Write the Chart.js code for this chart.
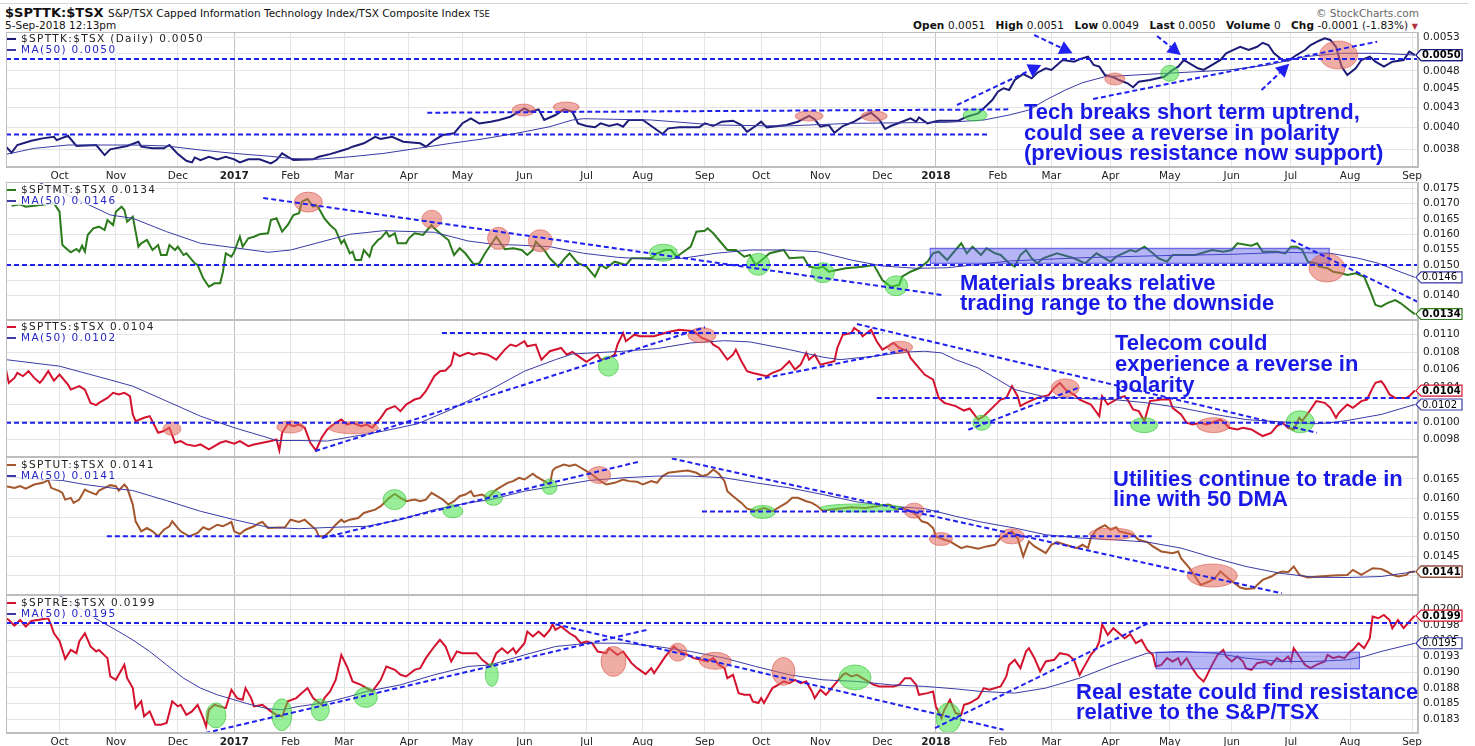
<!DOCTYPE html>
<html lang="en">
<head>
<meta charset="UTF-8">
<title>$SPTTK:$TSX - sector ratio charts</title>
<style>
  body { margin: 0; background: #fff; font-family: "DejaVu Sans", sans-serif; }
  #wrap { position: relative; width: 1475px; height: 746px; overflow: hidden; }
  canvas.panel { position: absolute; left: 0; }
  .txt { position: absolute; white-space: nowrap; color: #111; }
  .legend { position: absolute; left: 7px; font-size: 10.5px; letter-spacing: 1.35px; line-height: 10.5px; white-space: nowrap; }
  .legend div { display: inline-block; background: rgba(255,255,255,0.8); }
  .legend .dash { display: inline-block; width: 9px; height: 2px; vertical-align: middle; margin-right: 5px; }
  .note { position: absolute; font: bold 22px "Liberation Sans", Arial, sans-serif; color: #1a1ae6; white-space: nowrap; }
  .ohlc { letter-spacing: 0.1px; }
  .ohlc b { font-weight: bold; }
</style>
<script src="https://cdn.jsdelivr.net/npm/chart.js"></script>
</head>
<body>
<div id="wrap">
  <div style="position:absolute;left:0;top:3px;width:1468px;height:1px;background:#d4d4d4"></div>
  <div class="txt" style="left:5px;top:5px;font-size:13px;font-weight:bold;line-height:15px">$SPTTK:$TSX</div>
  <div class="txt" style="left:108px;top:7px;font-size:10.5px;line-height:13px">S&amp;P/TSX Capped Information Technology Index/TSX Composite Index <span style="font-size:8.5px">TSE</span></div>
  <div class="txt" style="left:5px;top:19px;font-size:10.5px;line-height:13px">5-Sep-2018 12:13pm</div>
  <div class="txt" style="right:56px;top:7px;font-size:10.5px;line-height:13px;color:#666">&copy; StockCharts.com</div>
  <div class="txt ohlc" style="left:913px;top:19px;font-size:10.5px;line-height:13px"><b>Open</b> 0.0051&nbsp;&nbsp;&nbsp;<b>High</b> 0.0051&nbsp;&nbsp;&nbsp;<b>Low</b> 0.0049&nbsp;&nbsp;&nbsp;<b>Last</b> 0.0050&nbsp;&nbsp;&nbsp;<b>Volume</b> 0&nbsp;&nbsp;&nbsp;<b>Chg</b> -0.0001 (-1.83%) <span style="color:#b03040;font-size:8px">&#9660;</span></div>
</div>
<script>
// trading-day index of each month start (day 0 = 6-Sep-2016) and axis labels
const monthStarts = [19, 39, 61, 81, 101, 120, 143, 162, 184, 206, 226, 248, 268, 289, 311, 330, 352, 371, 392, 413, 435, 456, 477, 499];
const monthLabels = ['Oct', 'Nov', 'Dec', '2017', 'Feb', 'Mar', 'Apr', 'May', 'Jun', 'Jul', 'Aug', 'Sep', 'Oct', 'Nov', 'Dec', '2018', 'Feb', 'Mar', 'Apr', 'May', 'Jun', 'Jul', 'Aug', 'Sep'];
const lastDay = 501.1;

// $SPTTK:$TSX  [day, ratio]
const tech = [[0,0.003777],[2,0.003708],[4,0.003796],[9,0.003845],[13,0.003873],[17,0.003891],[18,0.003853],[22,0.003903],[25,0.003785],[32,0.003796],[35,0.003682],[37,0.003747],[43,0.003785],[47,0.003834],[48,0.003777],[52,0.003758],[56,0.003758],[58,0.003796],[61,0.003693],[64,0.003619],[66,0.003602],[67,0.003656],[69,0.003627],[72,0.003663],[75,0.003635],[78,0.003663],[81,0.003635],[83,0.003602],[86,0.003635],[90,0.003635],[94,0.003591],[96,0.003627],[98,0.003701],[100,0.003663],[102,0.003627],[109,0.003635],[111,0.003663],[115,0.003693],[121,0.00375],[123,0.003777],[127,0.003816],[131,0.003891],[133,0.003865],[137,0.003891],[141,0.003834],[147,0.003816],[149,0.003777],[152,0.003853],[155,0.003912],[159,0.003932],[162,0.004054],[165,0.004115],[168,0.004051],[172,0.004073],[175,0.004094],[179,0.004135],[184,0.004241],[186,0.004198],[189,0.004228],[191,0.004094],[195,0.004156],[198,0.004228],[201,0.004198],[203,0.004053],[206,0.00402],[209,0.004005],[211,0.004053],[214,0.00402],[217,0.004044],[219,0.004012],[221,0.004094],[226,0.004094],[229,0.00402],[233,0.003924],[235,0.003992],[239,0.004004],[246,0.004004],[248,0.004053],[251,0.00402],[254,0.004073],[258,0.004085],[261,0.004032],[263,0.00395],[266,0.00402],[268,0.004073],[270,0.004004],[277,0.004032],[281,0.004073],[285,0.004144],[287,0.004103],[289,0.004012],[292,0.004032],[294,0.003938],[297,0.00402],[301,0.004073],[304,0.004135],[307,0.004185],[310,0.004094],[312,0.003984],[314,0.00402],[318,0.004073],[321,0.004115],[323,0.004073],[324,0.004127],[327,0.004053],[331,0.004085],[338,0.004085],[341,0.004135],[345,0.004177],[347,0.004241],[350,0.004349],[352,0.00446],[354,0.004506],[356,0.004483],[358,0.00462],[361,0.004704],[364,0.004643],[366,0.004723],[369,0.004787],[371,0.004762],[373,0.004834],[375,0.004908],[379,0.004883],[381,0.004918],[384,0.004958],[386,0.004834],[388,0.00481],[390,0.00469],[393,0.004658],[395,0.00462],[398,0.004574],[400,0.004519],[402,0.004597],[406,0.00462],[411,0.004666],[414,0.004762],[416,0.00481],[418,0.004908],[420,0.004859],[423,0.004786],[425,0.004762],[427,0.00481],[431,0.004908],[433,0.005008],[436,0.005068],[438,0.005108],[441,0.005058],[444,0.005108],[446,0.00517],[448,0.005135],[450,0.005008],[453,0.004908],[455,0.004897],[458,0.004982],[461,0.005058],[463,0.005135],[466,0.005202],[468,0.00524],[470,0.005214],[472,0.005108],[474,0.00481],[476,0.00469],[479,0.004787],[481,0.004908],[484,0.004958],[486,0.004883],[489,0.00481],[492,0.004883],[496,0.004908],[498,0.005033],[500,0.004982]];
const techMA = [[0,0.00369],[10,0.003758],[22,0.003796],[45,0.003796],[57,0.003785],[69,0.003739],[81,0.003701],[93,0.003671],[101,0.003645],[110,0.003635],[122,0.003663],[134,0.003701],[146,0.003758],[158,0.003816],[169,0.003865],[181,0.003932],[193,0.004012],[201,0.004094],[205,0.00411],[229,0.004094],[252,0.004032],[276,0.00402],[300,0.004053],[334,0.004065],[347,0.004094],[356,0.004156],[363,0.004219],[369,0.004349],[376,0.004483],[382,0.004582],[390,0.004666],[409,0.004708],[434,0.004762],[448,0.004834],[461,0.004958],[474,0.005008],[487,0.005008],[500,0.004982]];

// $SPTMT:$TSX
const mat = [[2,0.016933],[5,0.016979],[7,0.0169],[10,0.016933],[17,0.017011],[19,0.016737],[20,0.015652],[22,0.015489],[23,0.015414],[25,0.015522],[26,0.015434],[27,0.015629],[28,0.015434],[29,0.015978],[31,0.016196],[33,0.016249],[35,0.016141],[36,0.016467],[38,0.016304],[39,0.016737],[41,0.0169],[42,0.016793],[43,0.016411],[45,0.016574],[46,0.016086],[47,0.015597],[48,0.015708],[50,0.015815],[52,0.015489],[54,0.015652],[55,0.015326],[57,0.015326],[58,0.015652],[60,0.015489],[61,0.015597],[63,0.015326],[64,0.015382],[67,0.015056],[68,0.015],[70,0.014567],[72,0.014293],[74,0.014404],[76,0.014404],[77,0.014782],[78,0.015382],[80,0.015271],[81,0.015434],[83,0.015923],[84,0.015597],[86,0.01587],[88,0.015923],[90,0.016001],[93,0.016033],[94,0.016467],[96,0.016522],[98,0.016086],[100,0.016304],[102,0.01663],[104,0.016685],[105,0.017063],[107,0.017151],[109,0.0169],[110,0.016956],[111,0.016848],[113,0.016522],[115,0.016304],[117,0.016141],[119,0.015708],[120,0.015815],[122,0.015382],[123,0.015434],[124,0.015163],[126,0.015163],[127,0.015489],[129,0.015271],[130,0.015597],[132,0.015815],[133,0.01587],[135,0.016086],[136,0.015923],[138,0.016033],[139,0.015708],[142,0.015708],[143,0.01587],[145,0.016033],[148,0.015978],[151,0.016304],[152,0.016196],[154,0.016033],[157,0.015815],[159,0.015326],[161,0.015545],[163,0.015382],[166,0.015023],[168,0.015056],[170,0.015382],[172,0.015652],[174,0.015923],[177,0.015512],[180,0.015545],[183,0.015489],[185,0.015326],[187,0.015489],[188,0.01576],[191,0.015489],[193,0.015219],[196,0.014945],[198,0.015186],[200,0.015382],[203,0.015056],[206,0.014945],[209,0.014619],[211,0.015],[213,0.014893],[216,0.015108],[220,0.015],[222,0.015219],[229,0.015219],[231,0.015382],[234,0.015489],[236,0.015489],[238,0.015271],[243,0.015597],[245,0.016086],[248,0.016118],[249,0.016196],[251,0.016033],[253,0.015815],[256,0.015489],[259,0.015489],[262,0.015271],[264,0.015326],[266,0.015],[269,0.015219],[271,0.015382],[276,0.015489],[278,0.015219],[283,0.015251],[285,0.014945],[288,0.014893],[290,0.014945],[292,0.014782],[298,0.014893],[304,0.014945],[308,0.015],[311,0.014511],[314,0.014293],[317,0.014349],[318,0.014619],[321,0.014782],[324,0.014893],[327,0.015108],[329,0.015382],[331,0.015434],[334,0.015163],[337,0.015489],[339,0.015708],[341,0.015382],[343,0.015597],[346,0.015326],[348,0.015545],[351,0.015382],[353,0.015326],[356,0.015056],[358,0.014945],[360,0.015326],[362,0.015489],[364,0.015219],[366,0.015056],[368,0.015219],[373,0.015382],[379,0.015219],[383,0.015056],[387,0.015382],[392,0.015108],[394,0.015271],[399,0.015489],[401,0.015434],[404,0.015597],[407,0.015382],[409,0.015219],[412,0.015108],[414,0.015326],[422,0.015326],[428,0.015489],[432,0.015434],[435,0.015489],[437,0.015708],[442,0.015629],[444,0.015708],[446,0.015434],[451,0.015434],[454,0.015382],[456,0.015597],[458,0.015597],[460,0.015489],[462,0.015108],[465,0.015056],[466,0.014945],[469,0.014893],[471,0.014782],[474,0.01473],[476,0.014674],[479,0.01473],[482,0.014619],[484,0.014186],[486,0.013697],[488,0.013641],[490,0.013752],[493,0.013859],[495,0.013752],[498,0.013534],[500,0.0134]];
const matMA = [[5,0.0179],[12,0.01768],[29,0.016979],[37,0.01663],[45,0.016522],[57,0.016086],[69,0.015708],[81,0.015564],[93,0.015414],[101,0.015489],[110,0.015708],[122,0.016001],[134,0.016118],[152,0.016066],[164,0.015783],[173,0.015675],[181,0.015652],[193,0.015597],[205,0.015382],[217,0.015251],[229,0.015186],[240,0.015219],[252,0.015382],[264,0.015489],[276,0.015489],[288,0.015434],[300,0.015163],[311,0.014968],[323,0.014893],[334,0.01491],[343,0.015],[356,0.015131],[382,0.015238],[409,0.015303],[435,0.015349],[454,0.015414],[470,0.015382],[480,0.015219],[487,0.015056],[493,0.014837],[500,0.0146]];

// $SPTTS:$TSX
const tel = [[0,0.0106],[1,0.010448],[3,0.010505],[4,0.010562],[6,0.010525],[8,0.010582],[10,0.010505],[12,0.010448],[13,0.010486],[15,0.010582],[17,0.010474],[19,0.010543],[22,0.010428],[23,0.010371],[26,0.01041],[28,0.010371],[30,0.010219],[32,0.010193],[33,0.010219],[36,0.010276],[38,0.010334],[40,0.010314],[42,0.010334],[44,0.010296],[45,0.010086],[46,0.01001],[49,0.010048],[51,0.010067],[54,0.009876],[56,0.009896],[58,0.009934],[60,0.009762],[62,0.009782],[64,0.009743],[67,0.009724],[69,0.009743],[72,0.009686],[74,0.009724],[76,0.009762],[78,0.009782],[81,0.009751],[83,0.009782],[86,0.009724],[88,0.009743],[91,0.009762],[94,0.009782],[96,0.0098],[97,0.009674],[98,0.009876],[100,0.009979],[102,0.009953],[104,0.009971],[106,0.009934],[108,0.009762],[110,0.009674],[112,0.009819],[114,0.009914],[117,0.009991],[119,0.010028],[121,0.009971],[123,0.009991],[126,0.009953],[128,0.009971],[130,0.009934],[133,0.010048],[135,0.010143],[138,0.010182],[140,0.010124],[142,0.0102],[145,0.010257],[147,0.010276],[149,0.010353],[152,0.010525],[154,0.010582],[156,0.010589],[158,0.010657],[159,0.010791],[161,0.010753],[164,0.010791],[166,0.010771],[168,0.010791],[171,0.010771],[174,0.010714],[177,0.010829],[179,0.010886],[181,0.010867],[184,0.010925],[185,0.010867],[188,0.010886],[190,0.010714],[193,0.01081],[197,0.010848],[199,0.010771],[201,0.010802],[204,0.010734],[206,0.010688],[210,0.010771],[211,0.010714],[214,0.010734],[216,0.010771],[217,0.010886],[219,0.011019],[220,0.010925],[223,0.011],[225,0.010982],[230,0.010982],[235,0.011031],[239,0.011057],[244,0.011039],[247,0.010962],[250,0.010925],[251,0.010886],[253,0.010848],[256,0.010714],[258,0.010771],[259,0.010829],[261,0.010696],[263,0.010582],[265,0.010562],[270,0.010525],[272,0.010562],[275,0.0106],[278,0.010696],[280,0.0106],[282,0.010657],[284,0.010791],[285,0.010714],[287,0.010771],[289,0.010657],[294,0.010696],[295,0.010848],[297,0.011],[300,0.011019],[301,0.011077],[303,0.011031],[304,0.010982],[307,0.011057],[309,0.010925],[311,0.010829],[313,0.010867],[315,0.010905],[317,0.010848],[320,0.01081],[321,0.010734],[323,0.010657],[326,0.010543],[329,0.010486],[331,0.010276],[333,0.010219],[337,0.010182],[340,0.010131],[342,0.010154],[345,0.010028],[347,0.010067],[350,0.010162],[353,0.010257],[355,0.010276],[357,0.01041],[359,0.010296],[360,0.010182],[362,0.010219],[366,0.010276],[370,0.010307],[372,0.010391],[374,0.010448],[376,0.010371],[379,0.010314],[381,0.010257],[385,0.0102],[388,0.010067],[389,0.010296],[391,0.0102],[395,0.010276],[397,0.010296],[398,0.010257],[400,0.010143],[402,0.010124],[404,0.01001],[406,0.010239],[410,0.010257],[413,0.010257],[414,0.010162],[417,0.010086],[419,0.009991],[421,0.009971],[424,0.009991],[426,0.009971],[428,0.009991],[431,0.010028],[433,0.009971],[434,0.009934],[437,0.009914],[439,0.009934],[442,0.009914],[444,0.009876],[446,0.009839],[449,0.009876],[451,0.009953],[453,0.009991],[455,0.009934],[457,0.009914],[459,0.010048],[460,0.01001],[463,0.010143],[465,0.010239],[468,0.010219],[470,0.010162],[472,0.010048],[473,0.010105],[476,0.0102],[478,0.010162],[481,0.010239],[483,0.010257],[485,0.010391],[486,0.010448],[488,0.010467],[489,0.010428],[491,0.010314],[493,0.010276],[497,0.010276],[498,0.010296],[500,0.01036]];
const telMA = [[0,0.010714],[19,0.010639],[37,0.010482],[45,0.01041],[57,0.010239],[69,0.010067],[81,0.009934],[93,0.009819],[96,0.009788],[104,0.009788],[114,0.009782],[122,0.009827],[134,0.009896],[146,0.009979],[158,0.010143],[166,0.010276],[172,0.010371],[184,0.010582],[195,0.010714],[201,0.010779],[219,0.01081],[231,0.01084],[243,0.010905],[255,0.010931],[264,0.010917],[278,0.010829],[290,0.010742],[296,0.010714],[308,0.010753],[320,0.010802],[326,0.01081],[332,0.010791],[337,0.010714],[345,0.010619],[352,0.010486],[358,0.010371],[369,0.010285],[381,0.010269],[393,0.010257],[405,0.010219],[417,0.010162],[429,0.010086],[440,0.010028],[452,0.010002],[464,0.009979],[470,0.009991],[476,0.010017],[488,0.010086],[500,0.0102]];

// $SPTUT:$TSX
const ut = [[0,0.01631],[3,0.016266],[5,0.01631],[7,0.016248],[10,0.016352],[13,0.016396],[15,0.016466],[16,0.016266],[19,0.016181],[20,0.016136],[21,0.015962],[23,0.016007],[24,0.015877],[26,0.015962],[28,0.016222],[29,0.016181],[32,0.016092],[33,0.016196],[35,0.016266],[37,0.016336],[39,0.01631],[40,0.016196],[42,0.016352],[43,0.016266],[45,0.015833],[46,0.015401],[48,0.015142],[50,0.015227],[52,0.015142],[54,0.015012],[56,0.015183],[58,0.015272],[59,0.015401],[61,0.015227],[62,0.015142],[65,0.015012],[68,0.015098],[70,0.015246],[72,0.015183],[75,0.015313],[77,0.015272],[80,0.015383],[81,0.015142],[83,0.015072],[85,0.015183],[88,0.015272],[90,0.015357],[91,0.015383],[93,0.015227],[99,0.015246],[101,0.015443],[103,0.015401],[104,0.015383],[106,0.015443],[108,0.015313],[110,0.015183],[111,0.015012],[113,0.015012],[115,0.015142],[117,0.015313],[119,0.015443],[120,0.015383],[122,0.015443],[125,0.015487],[127,0.015617],[129,0.015661],[131,0.015703],[133,0.015791],[136,0.016007],[138,0.01611],[140,0.016007],[142,0.015921],[145,0.015962],[147,0.015921],[149,0.015962],[151,0.016136],[153,0.016051],[155,0.015962],[157,0.015833],[159,0.015921],[161,0.016051],[163,0.016092],[165,0.016181],[166,0.016051],[169,0.016092],[171,0.016007],[174,0.016222],[178,0.016396],[180,0.01644],[182,0.016526],[184,0.016482],[187,0.01663],[188,0.01657],[191,0.01644],[193,0.016352],[194,0.016716],[195,0.016786],[198,0.016871],[200,0.01683],[202,0.016871],[204,0.016786],[206,0.0167],[208,0.016612],[211,0.01644],[213,0.016352],[216,0.016396],[219,0.016482],[221,0.01644],[224,0.016422],[226,0.016352],[229,0.01644],[231,0.016396],[233,0.01657],[235,0.016656],[240,0.0167],[242,0.016716],[245,0.016656],[247,0.01657],[249,0.016612],[251,0.016742],[253,0.01663],[255,0.01644],[256,0.016181],[258,0.016051],[261,0.015877],[263,0.015729],[266,0.015677],[269,0.015747],[272,0.015661],[275,0.015791],[277,0.015877],[279,0.016007],[281,0.016007],[284,0.015921],[286,0.015877],[288,0.015791],[290,0.015661],[292,0.015703],[300,0.015765],[305,0.015747],[309,0.015791],[313,0.015833],[314,0.015817],[316,0.015703],[318,0.015747],[321,0.015661],[323,0.015573],[325,0.015401],[327,0.015357],[329,0.015227],[330,0.015012],[333,0.014924],[335,0.014882],[337,0.014794],[339,0.014708],[341,0.014752],[345,0.01469],[348,0.014752],[351,0.014794],[353,0.014968],[355,0.015054],[357,0.015142],[359,0.014968],[361,0.014493],[363,0.014882],[365,0.014752],[368,0.014622],[369,0.014578],[371,0.014794],[373,0.014864],[376,0.014794],[380,0.014708],[382,0.014794],[384,0.014708],[385,0.014968],[387,0.015183],[388,0.015227],[390,0.015298],[392,0.015183],[394,0.015246],[395,0.015142],[400,0.015054],[402,0.014924],[405,0.014864],[407,0.014752],[410,0.014622],[414,0.014578],[416,0.014622],[417,0.014448],[420,0.014189],[422,0.013973],[424,0.013755],[427,0.013843],[429,0.013929],[431,0.014103],[433,0.013973],[436,0.013799],[438,0.013687],[440,0.013651],[443,0.013669],[444,0.013755],[446,0.013885],[449,0.013973],[451,0.014059],[453,0.014103],[455,0.014085],[457,0.014233],[459,0.014015],[462,0.013947],[466,0.013973],[471,0.013999],[476,0.014015],[478,0.014145],[481,0.014015],[483,0.014103],[485,0.014189],[488,0.014171],[490,0.014103],[492,0.014015],[494,0.013973],[497,0.014015],[498,0.014085],[500,0.0141]];
const utMA = [[0,0.01655],[20,0.016456],[28,0.016352],[39,0.016248],[45,0.016196],[57,0.015936],[69,0.015661],[81,0.015443],[93,0.015246],[104,0.015209],[116,0.015246],[128,0.015272],[140,0.015443],[152,0.015703],[164,0.015877],[172,0.015962],[184,0.016181],[195,0.01631],[207,0.016456],[219,0.016526],[231,0.01657],[243,0.01657],[255,0.016526],[266,0.016396],[278,0.016266],[290,0.016092],[302,0.015903],[314,0.015791],[326,0.015729],[337,0.015531],[346,0.015383],[358,0.015227],[369,0.015054],[381,0.014968],[393,0.014924],[405,0.014864],[417,0.014708],[429,0.014448],[440,0.014233],[452,0.014059],[464,0.013955],[476,0.013947],[488,0.013973],[500,0.0141]];

// $SPTRE:$TSX
const re = [[0,0.019857],[1,0.01983],[3,0.019741],[5,0.01983],[7,0.019726],[9,0.019814],[15,0.019857],[16,0.019751],[17,0.019619],[19,0.019497],[21,0.019211],[23,0.019354],[25,0.019302],[26,0.019488],[28,0.019619],[30,0.019408],[32,0.019329],[33,0.019354],[36,0.019223],[37,0.018932],[39,0.018878],[40,0.018958],[42,0.019116],[43,0.018905],[45,0.018747],[46,0.018429],[48,0.018536],[49,0.018298],[51,0.018377],[53,0.018164],[55,0.018164],[57,0.018191],[59,0.018536],[61,0.018456],[62,0.018482],[64,0.018323],[66,0.018377],[68,0.018482],[70,0.018271],[71,0.018139],[72,0.018402],[74,0.018482],[78,0.018429],[80,0.01872],[82,0.018588],[84,0.018561],[85,0.018747],[87,0.018588],[88,0.018456],[91,0.018482],[94,0.018377],[96,0.018323],[98,0.018298],[100,0.018536],[103,0.018588],[105,0.018667],[107,0.018747],[109,0.018588],[112,0.018482],[113,0.018588],[115,0.018694],[117,0.018878],[119,0.019275],[121,0.019091],[123,0.018853],[126,0.018799],[130,0.018694],[133,0.018878],[135,0.019091],[138,0.019037],[140,0.018958],[142,0.018932],[145,0.019037],[147,0.019064],[149,0.019223],[152,0.019408],[154,0.019513],[156,0.019408],[158,0.01917],[160,0.019329],[162,0.019302],[167,0.019302],[169,0.019196],[172,0.019091],[174,0.019302],[176,0.019381],[178,0.019302],[180,0.019381],[181,0.019302],[184,0.019461],[185,0.019646],[187,0.019567],[189,0.019646],[191,0.019567],[193,0.019672],[194,0.019762],[195,0.019672],[197,0.019726],[200,0.019619],[202,0.019567],[204,0.019461],[206,0.019488],[208,0.019461],[210,0.019329],[213,0.019302],[214,0.019381],[217,0.019275],[219,0.019329],[222,0.019143],[224,0.019064],[227,0.018969],[229,0.019064],[230,0.018985],[232,0.019116],[234,0.01925],[236,0.019354],[237,0.019408],[239,0.019329],[242,0.019275],[244,0.019223],[249,0.01917],[251,0.019223],[253,0.019116],[255,0.019064],[256,0.018905],[258,0.018958],[260,0.018667],[262,0.01864],[264,0.01864],[265,0.018536],[267,0.018509],[268,0.018588],[269,0.018509],[272,0.018747],[274,0.018799],[276,0.018853],[278,0.018826],[280,0.018878],[282,0.018826],[284,0.018853],[286,0.018694],[287,0.018588],[289,0.01872],[291,0.01864],[292,0.018694],[295,0.018853],[297,0.018958],[298,0.018985],[300,0.018932],[302,0.018958],[305,0.018878],[308,0.018799],[310,0.018774],[315,0.018774],[317,0.018799],[319,0.018905],[321,0.018905],[323,0.018799],[324,0.01864],[327,0.018667],[329,0.018694],[330,0.018456],[332,0.018271],[333,0.018402],[335,0.018561],[337,0.01835],[339,0.018323],[340,0.018482],[342,0.018509],[345,0.018588],[346,0.018667],[347,0.018747],[349,0.01872],[353,0.018774],[355,0.018932],[356,0.019116],[358,0.019196],[360,0.019064],[362,0.019329],[363,0.019381],[365,0.019223],[367,0.019012],[369,0.01917],[372,0.019196],[374,0.019302],[377,0.019275],[379,0.019196],[381,0.018958],[383,0.019116],[385,0.019275],[387,0.019381],[388,0.019488],[389,0.019762],[391,0.019592],[393,0.019699],[395,0.019619],[397,0.01954],[399,0.019603],[401,0.019461],[403,0.019513],[405,0.019354],[407,0.019275],[408,0.019091],[410,0.019116],[412,0.019223],[414,0.01917],[416,0.019223],[417,0.019116],[419,0.019223],[421,0.019064],[423,0.018932],[425,0.018853],[426,0.018932],[428,0.019116],[430,0.019275],[432,0.019354],[433,0.01925],[435,0.01917],[437,0.01925],[439,0.01917],[440,0.019064],[442,0.019037],[444,0.019143],[447,0.01917],[449,0.019116],[451,0.019223],[453,0.01917],[455,0.01925],[456,0.01917],[457,0.019381],[459,0.01925],[461,0.019116],[463,0.019064],[465,0.019116],[468,0.01917],[469,0.019275],[471,0.019223],[473,0.01925],[475,0.019223],[477,0.019329],[478,0.019354],[480,0.019461],[482,0.019381],[484,0.01954],[485,0.019884],[487,0.019857],[489,0.01991],[491,0.01983],[492,0.019699],[494,0.01983],[496,0.019699],[498,0.019805],[500,0.0199]];
const reMA = [[0,0.02045],[19,0.02022],[31,0.019873],[39,0.019672],[45,0.019513],[51,0.019329],[57,0.019116],[63,0.018905],[69,0.018747],[75,0.01864],[81,0.018561],[87,0.018482],[93,0.018418],[98,0.018402],[104,0.018456],[110,0.018493],[116,0.018545],[122,0.018615],[128,0.018694],[140,0.018799],[152,0.018958],[164,0.019091],[172,0.019116],[184,0.019275],[195,0.019408],[207,0.019461],[219,0.019461],[231,0.019408],[243,0.019329],[255,0.019223],[266,0.019091],[278,0.018958],[290,0.018878],[302,0.018853],[314,0.018799],[326,0.018774],[337,0.018735],[346,0.018694],[358,0.018667],[369,0.018747],[381,0.018905],[393,0.019116],[405,0.019302],[417,0.019329],[429,0.019302],[440,0.019223],[452,0.01917],[464,0.01917],[476,0.019196],[482,0.01925],[488,0.019329],[500,0.01946]];

// right-hand axis ticks and their printed labels
const techTicks = [0.00375, 0.004, 0.00425, 0.0045, 0.00475, 0.005, 0.00525];
const techTickLabels = ['0.0038', '0.0040', '0.0043', '0.0045', '0.0048', '0.0050', '0.0053'];
const matTicks = [0.014, 0.0145, 0.015, 0.0155, 0.016, 0.0165, 0.017, 0.0175];
const matTickLabels = ['0.0140', '0.0145', '0.0150', '0.0155', '0.0160', '0.0165', '0.0170', '0.0175'];
const telTicks = [0.0098, 0.01, 0.0102, 0.0104, 0.0106, 0.0108, 0.011];
const telTickLabels = ['0.0098', '0.0100', '0.0102', '0.0104', '0.0106', '0.0108', '0.0110'];
const utTicks = [0.014, 0.0145, 0.015, 0.0155, 0.016, 0.0165];
const utTickLabels = ['0.0140', '0.0145', '0.0150', '0.0155', '0.0160', '0.0165'];
const reTicks = [0.01825, 0.0185, 0.01875, 0.019, 0.01925, 0.0195, 0.01975, 0.02];
const reTickLabels = ['0.0183', '0.0185', '0.0188', '0.0190', '0.0193', '0.0195', '0.0198', '0.0200'];

// hand-drawn annotations, in [day, ratio] units
// lines: [d1, v1, d2, v2]; rects: [d1, v1, d2, v2]; marks: [colour, day, ratio, rx px, ry px]
const techLines = [[0,0.004923,501.1,0.004923],[0,0.003918,348.5,0.003918],[149.5,0.004185,356.4,0.004228],[385.8,0.004362,486.6,0.005187]];
const techArrows = [[337.5,0.004284,367.4,0.004834],[364.9,0.005293,378.5,0.005009],[408.5,0.005277,416.9,0.004982],[445.6,0.004483,455.4,0.004851]];
const techMarks = [['r',183.7,0.004219,11.5,6],['r',198.8,0.004258,13,5],['r',285,0.004143,14,5],['r',308.1,0.004143,13,5],['g',343.9,0.004156,12,6],['r',393.5,0.004634,10,6],['g',413,0.004714,9,8],['r',472.9,0.004982,19,14]];
const matLines = [[0,0.015,501.1,0.015],[91.3,0.017184,332.2,0.014023],[456.1,0.015815,501.1,0.013794]];
const matRects = [[328,0.015056,469.6,0.015545]];
const matMarks = [['r',107.3,0.01705,14,10],['r',151.1,0.01649,10,9],['r',174.8,0.01587,11,11],['r',189.6,0.015792,12,11],['g',233.3,0.015401,14,8.5],['g',267,0.015023,11.5,11],['g',289.9,0.014749,11.5,10],['g',315.9,0.014326,11.5,10],['r',468.8,0.014903,18,14]];
const telLines = [[0,0.00999,501.1,0.00999],[154.7,0.01102,311,0.01102],[302,0.011122,465.2,0.009876],[109.7,0.009667,248.1,0.011085],[266.5,0.010486,319.7,0.010829],[309,0.010276,500.7,0.010276],[341.5,0.009911,380.5,0.010391]];
const telMarks = [['r',58.9,0.009922,9,6.5],['r',100.9,0.009942,13.5,6],['r',123.3,0.009934,25,6],['r',247,0.010993,14,7.5],['r',317.3,0.010856,12.5,6],['r',375.9,0.010391,14,9],['r',428.5,0.009964,16.5,7.5],['g',213.8,0.010639,10,10],['g',346.3,0.009991,9,7.5],['g',403.9,0.009964,13.5,7.5],['g',459.3,0.010002,14,11]];
const utLines = [[35.8,0.015012,406.6,0.015012],[112.1,0.014968,224.5,0.016941],[236.3,0.017027,452.8,0.013539],[247,0.015656,331.5,0.015656]];
const utMarks = [['g',137.9,0.015962,11.5,10],['g',158.6,0.015661,10,6.5],['g',173,0.016007,9,7.5],['g',192.9,0.016292,7.5,7.5],['g',268.6,0.015643,12.5,6.5],['g',303.4,0.015747,41,4],['r',210.5,0.016596,11.5,8.5],['r',322.3,0.015677,10,7.5],['r',331.8,0.014942,11.5,6.5],['r',357,0.015012,12.5,7.5],['r',392.4,0.015072,22.5,6],['r',428.1,0.013999,25,11.5]];
const reLines = [[0,0.01978,501.1,0.01978],[70.7,0.018033,227.4,0.019672],[195,0.019762,354,0.018085],[329.7,0.018112,406,0.019794]];
const reRects = [[408.2,0.019053,480.3,0.019318]];
const reMarks = [['g',74.5,0.018313,10,12.5],['g',97.9,0.018323,10,16],['g',111.5,0.018402,9,11],['g',127.7,0.018599,11.5,10],['g',172.4,0.018958,6.5,11.5],['g',301.3,0.018916,16,12.5],['g',334.5,0.018271,12.5,15],['r',215.6,0.01917,12.5,15],['r',238.4,0.019318,9,9],['r',251.7,0.01918,16,8.5],['r',275.9,0.019012,11.5,14]];

const MA_COLOR = '#3b3ba6';
const MA_TEXT = '#2626c4';
const NOTE_BLUE = '#2020f0';
const FONT = 'DejaVu Sans';

const panels = [
  { name: '$SPTTK:$TSX (Daily)', top: 32, h: 135, axisH: 15, type: 'logarithmic', min: 0.003552, max: 0.005341,
    ticks: techTicks, tickLabels: techTickLabels, price: tech, ma: techMA, color: '#1c1c78',
    lines: techLines, arrows: techArrows, rects: [], marks: techMarks, legendTop: 33 },
  { name: '$SPTMT:$TSX', top: 182, h: 138, axisH: 0, type: 'linear', min: 0.013208, max: 0.017705,
    ticks: matTicks, tickLabels: matTickLabels, price: mat, ma: matMA, color: '#2b7a1c',
    lines: matLines, arrows: [], rects: matRects, marks: matMarks, legendTop: 184 },
  { name: '$SPTTS:$TSX', top: 320, h: 137, axisH: 0, type: 'linear', min: 0.009599, max: 0.011168,
    ticks: telTicks, tickLabels: telTickLabels, price: tel, ma: telMA, color: '#d4122e',
    lines: telLines, arrows: [], rects: [], marks: telMarks, legendTop: 321 },
  { name: '$SPTUT:$TSX', top: 457, h: 138, axisH: 0, type: 'linear', min: 0.013495, max: 0.017064,
    ticks: utTicks, tickLabels: utTickLabels, price: ut, ma: utMA, color: '#a4562c',
    lines: utLines, arrows: [], rects: [], marks: utMarks, legendTop: 459 },
  { name: '$SPTRE:$TSX', top: 595, h: 138, axisH: 13, type: 'linear', min: 0.018033, max: 0.020227,
    ticks: reTicks, tickLabels: reTickLabels, price: re, ma: reMA, color: '#d4122e',
    lines: reLines, arrows: [], rects: reRects, marks: reMarks, legendTop: 597 }
];

function valueBox(ctx, y, text, color, bold) {
  const tip = 1416, left = 1421, right = 1462, hh = 5.5;
  ctx.beginPath();
  ctx.moveTo(tip, y);
  ctx.lineTo(left, y - hh);
  ctx.lineTo(right, y - hh);
  ctx.lineTo(right, y + hh);
  ctx.lineTo(left, y + hh);
  ctx.closePath();
  ctx.fillStyle = '#fff';
  ctx.fill();
  ctx.lineWidth = 1.2;
  ctx.strokeStyle = color;
  ctx.stroke();
  ctx.fillStyle = '#000';
  ctx.font = (bold ? 'bold ' : '') + '10px "' + FONT + '"';
  ctx.textBaseline = 'middle';
  ctx.textAlign = 'left';
  ctx.fillText(text, left + 1, y + 0.5);
}

function annotations(p) {
  return {
    id: 'marks',
    afterDatasetsDraw(chart) {
      const { ctx, chartArea: a, scales: { x, y } } = chart;
      const px = d => x.getPixelForValue(d);
      const py = v => y.getPixelForValue(v);
      ctx.save();
      ctx.beginPath();
      ctx.rect(a.left, a.top, a.right - a.left, a.bottom - a.top);
      ctx.clip();

      p.rects.forEach(([d1, v1, d2, v2]) => {
        const x1 = px(d1), x2 = px(d2), y1 = py(v1), y2 = py(v2);
        ctx.fillStyle = 'rgba(80,80,235,0.42)';
        ctx.fillRect(x1, Math.min(y1, y2), x2 - x1, Math.abs(y2 - y1));
        ctx.strokeStyle = 'rgba(50,50,225,0.8)';
        ctx.lineWidth = 1;
        ctx.strokeRect(x1, Math.min(y1, y2), x2 - x1, Math.abs(y2 - y1));
      });

      p.marks.forEach(([c, d, v, rx, ry]) => {
        ctx.beginPath();
        ctx.ellipse(px(d), py(v), rx, ry, 0, 0, Math.PI * 2);
        ctx.fillStyle = c === 'r' ? 'rgba(226,105,92,0.55)' : 'rgba(70,225,70,0.55)';
        ctx.fill();
        ctx.lineWidth = 1;
        ctx.strokeStyle = c === 'r' ? 'rgba(215,80,70,0.55)' : 'rgba(50,190,50,0.6)';
        ctx.stroke();
      });

      ctx.strokeStyle = NOTE_BLUE;
      ctx.lineWidth = 2;
      ctx.setLineDash([5, 3]);
      p.lines.forEach(([d1, v1, d2, v2]) => {
        ctx.beginPath();
        ctx.moveTo(px(d1), py(v1));
        ctx.lineTo(px(d2), py(v2));
        ctx.stroke();
      });

      p.arrows.forEach(([d1, v1, d2, v2]) => {
        const x1 = px(d1), y1 = py(v1), x2 = px(d2), y2 = py(v2);
        const ang = Math.atan2(y2 - y1, x2 - x1);
        const hl = 13, hw = 7;
        const bx = x2 - hl * Math.cos(ang), by = y2 - hl * Math.sin(ang);
        ctx.setLineDash([5, 3]);
        ctx.beginPath();
        ctx.moveTo(x1, y1);
        ctx.lineTo(bx, by);
        ctx.stroke();
        ctx.setLineDash([]);
        ctx.beginPath();
        ctx.moveTo(x2, y2);
        ctx.lineTo(bx + hw * Math.sin(ang), by - hw * Math.cos(ang));
        ctx.lineTo(bx - hw * Math.sin(ang), by + hw * Math.cos(ang));
        ctx.closePath();
        ctx.fillStyle = NOTE_BLUE;
        ctx.fill();
      });
      ctx.restore();
    },
    afterDraw(chart) {
      const { ctx, chartArea: a, scales: { y } } = chart;
      ctx.save();
      ctx.strokeStyle = '#bdbdbd';
      ctx.lineWidth = 1;
      ctx.strokeRect(a.left + 0.5, a.top + 0.5, a.right - a.left - 1, a.bottom - a.top - 1);
      const maLast = p.ma[p.ma.length - 1][1];
      const last = p.price[p.price.length - 1][1];
      valueBox(ctx, y.getPixelForValue(maLast), maLast.toFixed(4), MA_COLOR, false);
      valueBox(ctx, y.getPixelForValue(last), last.toFixed(4), p.color, true);
      ctx.restore();
    }
  };
}

const wrap = document.getElementById('wrap');
const isYear = i => /^20/.test(monthLabels[i] || '');

panels.forEach(p => {
  const cv = document.createElement('canvas');
  cv.className = 'panel';
  cv.width = 1475;
  cv.height = p.h + p.axisH;
  cv.style.top = p.top + 'px';
  wrap.appendChild(cv);

  new Chart(cv, {
    type: 'line',
    data: {
      datasets: [
        { data: p.ma.map(([x, y]) => ({ x, y })), borderColor: MA_COLOR, borderWidth: 1, pointRadius: 0, tension: 0 },
        { data: p.price.map(([x, y]) => ({ x, y })), borderColor: p.color, borderWidth: 2, pointRadius: 0, tension: 0 }
      ]
    },
    options: {
      responsive: false,
      animation: false,
      devicePixelRatio: 1,
      events: [],
      layout: { padding: { left: 6, right: 0, top: 0, bottom: 0 } },
      plugins: { legend: { display: false }, tooltip: { enabled: false } },
      scales: {
        x: {
          type: 'linear', min: 0, max: lastDay,
          afterBuildTicks: s => { s.ticks = monthStarts.map(v => ({ value: v })); },
          afterFit: s => { s.height = p.axisH; s.paddingLeft = 0; s.paddingRight = 0; },
          grid: { drawTicks: false, color: c => isYear(c.index) ? '#c2c2c2' : '#e4e4e4' },
          border: { display: true, color: '#bdbdbd' },
          ticks: {
            display: p.axisH > 0, autoSkip: false, maxRotation: 0, padding: 3, color: '#222',
            font: c => ({ family: FONT, size: 10.5, weight: isYear(c.index) ? 'bold' : 'normal' }),
            callback: (v, i) => monthLabels[i]
          }
        },
        y: {
          type: p.type, position: 'right', min: p.min, max: p.max,
          afterBuildTicks: s => { s.ticks = p.ticks.map(v => ({ value: v })); },
          afterFit: s => { s.width = 57; s.paddingTop = 0; s.paddingBottom = 0; },
          grid: { drawTicks: false, color: '#e4e4e4' },
          border: { display: true, color: '#bdbdbd' },
          ticks: { padding: 5, color: '#222', font: { family: FONT, size: 10.5 }, callback: (v, i) => p.tickLabels[i] }
        }
      }
    },
    plugins: [annotations(p)]
  });

  // legend rows (series name + last value, MA(50) + last value)
  const lg = document.createElement('div');
  lg.className = 'legend';
  lg.style.top = p.legendTop + 'px';
  const last = p.price[p.price.length - 1][1].toFixed(4);
  const maLast = p.ma[p.ma.length - 1][1].toFixed(4);
  lg.innerHTML =
    '<div><span class="dash" style="background:' + p.color + '"></span><span style="color:#222">' + p.name + ' ' + last + '</span></div><br>' +
    '<div><span class="dash" style="background:' + MA_COLOR + '"></span><span style="color:' + MA_TEXT + '">MA(50) ' + maLast + '</span></div>';
  wrap.appendChild(lg);
});

// commentary text
const notes = [
  { left: 1024, top: 102, lh: 20.5, lines: ['Tech breaks short term uptrend,', 'could see a reverse in polarity', '(previous resistance now support)'] },
  { left: 960, top: 273, lh: 20, lines: ['Materials breaks relative', 'trading range to the downside'] },
  { left: 1115, top: 333, lh: 20.8, lines: ['Telecom could', 'experience a reverse in', 'polarity'] },
  { left: 1113, top: 469, lh: 20.4, lines: ['Utilities continue to trade in', 'line with 50 DMA'] },
  { left: 1076, top: 682, lh: 20, lines: ['Real estate could find resistance', 'relative to the S&P/TSX'] }
];
notes.forEach(n => {
  const d = document.createElement('div');
  d.className = 'note';
  d.style.left = n.left + 'px';
  d.style.top = n.top + 'px';
  d.style.lineHeight = n.lh + 'px';
  d.innerHTML = n.lines.map(s => s.replace(/&/g, '&amp;')).join('<br>');
  wrap.appendChild(d);
});
</script>
</body>
</html>
